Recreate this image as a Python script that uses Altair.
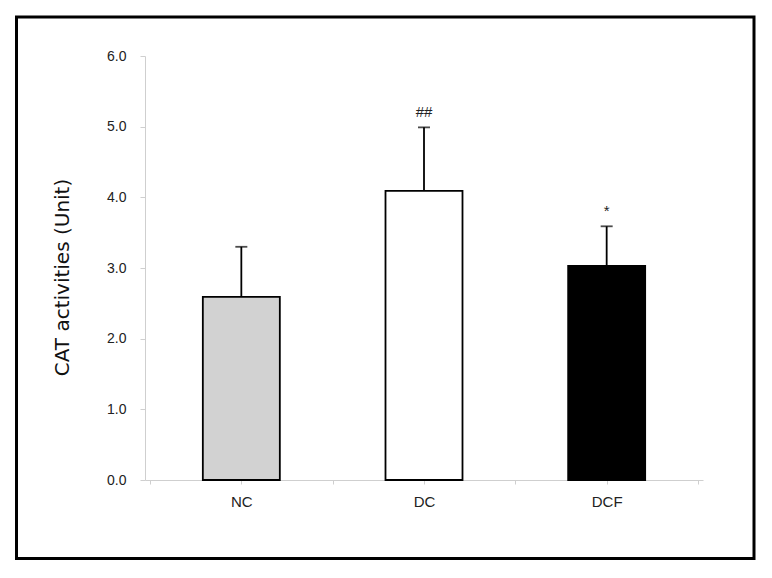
import altair as alt
import pandas as pd

groups = ["NC", "DC", "DCF"]
means = [2.59, 4.09, 3.03]
sds = [0.71, 0.90, 0.56]
signif = ["", "##", "*"]
fills = ["#d2d2d2", "#ffffff", "#000000"]
y_ticks = [0, 1, 2, 3, 4, 5, 6]

df = pd.DataFrame({"group": groups, "mean": means, "sd": sds, "mark": signif, "fill": fills})
df["pos"] = [i + 0.5 for i in range(len(groups))]
df["top"] = df["mean"] + df["sd"]

x_vals = [i * 0.5 for i in range(2 * len(groups) + 1)]
js_groups = "[" + ",".join("'" + g + "'" for g in groups) + "]"
label_expr = f"(datum.value % 1) == 0.5 ? {js_groups}[floor(datum.value)] : ''"

FONT = "Liberation Sans"
AX = "#cfcfcf"
Y_TITLE = "CAT activities (Unit)"

x_scale = alt.Scale(domain=[0, len(groups)], nice=False, zero=False)
y_scale = alt.Scale(domain=[0, 6], nice=False)
x_axis = alt.Axis(values=x_vals, labelExpr=label_expr, title=None)
y_axis = alt.Axis(values=y_ticks, format=".1f", title=Y_TITLE)

x_enc = alt.X("pos:Q", scale=x_scale, axis=x_axis)
y_mean = alt.Y("mean:Q", scale=y_scale, axis=y_axis)
y_top = alt.Y("top:Q", scale=y_scale, axis=y_axis)

bars = alt.Chart(df).mark_bar(size=77, stroke="black", strokeWidth=1.8).encode(
    x=x_enc, y=y_mean, fill=alt.Fill("fill:N", scale=None),
)
err = alt.Chart(df).mark_rule(strokeWidth=1.8, color="black").encode(
    x=x_enc, y=y_mean, y2="top:Q"
)
caps = alt.Chart(df).mark_tick(orient="horizontal", size=12, thickness=1.8, color="black").encode(
    x=x_enc, y=y_top
)
txt = alt.Chart(df).mark_text(dy=-10, baseline="alphabetic", fontSize=15, font=FONT, color="#222").encode(
    x=x_enc, y=y_top, text="mark:N"
)

frame = alt.Chart(pd.DataFrame({"k": [0]})).mark_rect(
    filled=False, stroke="black", strokeWidth=3
).encode(
    x=alt.value(-128.5), x2=alt.value(609), y=alt.value(-39), y2=alt.value(502.5)
)

chart = alt.layer(frame, bars, err, caps, txt).properties(
    width=558, height=424,
    autosize=alt.AutoSizeParams(type="none"),
    padding={"left": 137, "top": 48, "right": 60, "bottom": 110},
).configure_view(stroke=None).configure_axis(
    grid=False, tickColor=AX, domainColor=AX, tickWidth=1, domainWidth=1,
    labelFont=FONT, labelColor="#222",
).configure_axisX(
    tickSize=4, labelFontSize=15, labelPadding=10, labelOverlap=False, labelFlush=False,
).configure_axisY(
    tickSize=5, labelFontSize=14, labelPadding=14,
    titleFont="DejaVu Sans", titleFontSize=20, titleFontWeight="normal", titleColor="#111",
    titleX=-83, titleY=221, titleAngle=270, titleAlign="center", titleBaseline="middle",
    titleLimit=400,
)

chart.save("out.html", embed_options={"renderer": "svg", "actions": False})
